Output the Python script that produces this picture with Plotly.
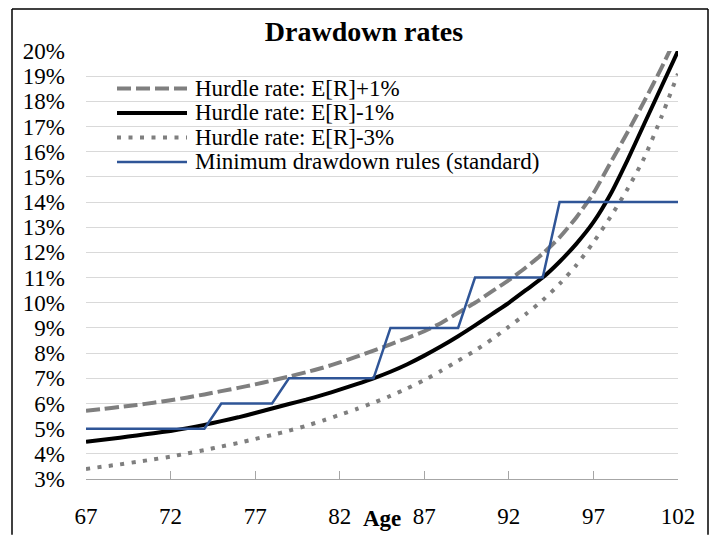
import plotly.graph_objects as go

# ---------------- data ----------------
ages = list(range(67, 103))

hurdle_plus1 = [5.71, 5.78, 5.86, 5.94, 6.03, 6.13, 6.24, 6.36, 6.49, 6.62,
                6.76, 6.91, 7.07, 7.24, 7.42, 7.63, 7.86, 8.10, 8.35, 8.60,
                8.87, 9.20, 9.60, 10.00, 10.45, 10.90, 11.40, 11.95, 12.60, 13.40,
                14.35, 15.55, 16.75, 18.00, 19.30, 20.70]

hurdle_minus1 = [4.48, 4.56, 4.64, 4.73, 4.82, 4.91, 5.02, 5.15, 5.30, 5.45,
                 5.62, 5.80, 5.98, 6.15, 6.34, 6.55, 6.77, 7.00, 7.26, 7.56,
                 7.90, 8.27, 8.67, 9.10, 9.55, 10.00, 10.50, 11.00, 11.63, 12.35,
                 13.20, 14.30, 15.65, 17.10, 18.55, 20.00]

hurdle_minus3 = [3.40, 3.49, 3.58, 3.68, 3.78, 3.89, 4.02, 4.15, 4.29, 4.43,
                 4.59, 4.75, 4.92, 5.11, 5.32, 5.55, 5.78, 6.03, 6.30, 6.60,
                 6.93, 7.30, 7.70, 8.10, 8.55, 9.05, 9.55, 10.10, 10.75, 11.50,
                 12.40, 13.40, 14.50, 15.75, 17.35, 19.10]

min_drawdown = [5, 5, 5, 5, 5, 5, 5, 5,
                6, 6, 6, 6,
                7, 7, 7, 7, 7, 7,
                9, 9, 9, 9, 9,
                11, 11, 11, 11, 11,
                14, 14, 14, 14, 14, 14, 14, 14]

series_names = ["Hurdle rate: E[R]+1%", "Hurdle rate: E[R]-1%",
                "Hurdle rate: E[R]-3%", "Minimum drawdown rules (standard)"]
x_ticks = [67, 72, 77, 82, 87, 92, 97, 102]
y_ticks = list(range(3, 21))
y_tick_labels = [f"{v}%" for v in y_ticks]

# ---------------- layout geometry ----------------
W, H = 714, 541
L, R, T, B = 86, 36, 51, 53
PW, PH = W - L - R, H - T - B


def px_x(px):
    return (px - L) / PW


def px_y(py):
    return (H - B - py) / PH


FONT = "Liberation Serif, Times New Roman, serif"
GRAY = "#7f7f7f"
BLUE = "#2f5597"

styles = [
    dict(color=GRAY, width=4, dash="14px,5px"),
    dict(color="black", width=4, dash="solid"),
    dict(color=GRAY, width=4, dash="4px,7.5px"),
    dict(color=BLUE, width=2.5, dash="solid"),
]
shapes_kind = ["spline", "spline", "spline", "linear"]
series = [hurdle_plus1, hurdle_minus1, hurdle_minus3, min_drawdown]

fig = go.Figure()
for name, ys, st, shp in zip(series_names, series, styles, shapes_kind):
    line = dict(st)
    line["shape"] = shp
    if shp == "spline":
        line["smoothing"] = 0.6
    fig.add_trace(go.Scatter(x=ages, y=ys, mode="lines", name=name,
                             line=line, showlegend=False, cliponaxis=True))

# manual legend (line samples + labels)
rows = [89.3, 114.3, 139.3, 164.3]
shapes = []
annotations = []
for name, st, ry in zip(series_names, styles, rows):
    shapes.append(dict(type="line", xref="paper", yref="paper",
                       x0=px_x(117), x1=px_x(187), y0=px_y(ry), y1=px_y(ry),
                       line=st))
    annotations.append(dict(text=name, xref="paper", yref="paper",
                            x=px_x(193), y=px_y(ry), xanchor="left", yanchor="middle",
                            showarrow=False, font=dict(family=FONT, size=23, color="black")))

# x axis title "Age"
annotations.append(dict(text="<b>Age</b>", xref="paper", yref="paper",
                        x=0.5, y=px_y(528), xanchor="center", yanchor="middle",
                        showarrow=False, font=dict(family=FONT, size=23, color="black")))

# outer chart border (left, top, right edges)
border = dict(color="black", width=1.5)
for (x0, y0, x1, y1) in [(12, 8, 12, 545), (12, 8, 708, 8), (708, 8, 708, 545)]:
    shapes.append(dict(type="line", xref="paper", yref="paper",
                       x0=px_x(x0), x1=px_x(x1), y0=px_y(y0), y1=px_y(y1),
                       line=border, layer="above"))

fig.update_layout(
    width=W, height=H,
    margin=dict(l=L, r=R, t=T, b=B, pad=0),
    paper_bgcolor="white", plot_bgcolor="white",
    title=dict(text="<b>Drawdown rates</b>", x=364 / W, xref="container",
               y=1 - 31.5 / H, yref="container", xanchor="center", yanchor="middle",
               font=dict(family=FONT, size=28, color="black")),
    showlegend=False,
    shapes=shapes,
    annotations=annotations,
    xaxis=dict(range=[67, 102], tickvals=x_ticks, ticks="inside", ticklen=8,
               tickcolor="#a6a6a6", tickwidth=1.3, showline=True, linecolor="#a6a6a6",
               linewidth=1.3, showgrid=False, zeroline=False,
               tickfont=dict(family=FONT, size=23, color="black"),
               ticklabelstandoff=16),
    yaxis=dict(range=[3, 20], tickvals=y_ticks, ticktext=y_tick_labels, ticks="",
               showgrid=True, gridcolor="#d9d9d9", gridwidth=1.3, zeroline=False,
               showline=False,
               tickfont=dict(family=FONT, size=23, color="black"),
               ticklabelstandoff=20),
)

fig.write_html("out.html", config={"displayModeBar": False},
               post_script="document.body.style.margin='0';document.body.style.overflow='hidden';")
